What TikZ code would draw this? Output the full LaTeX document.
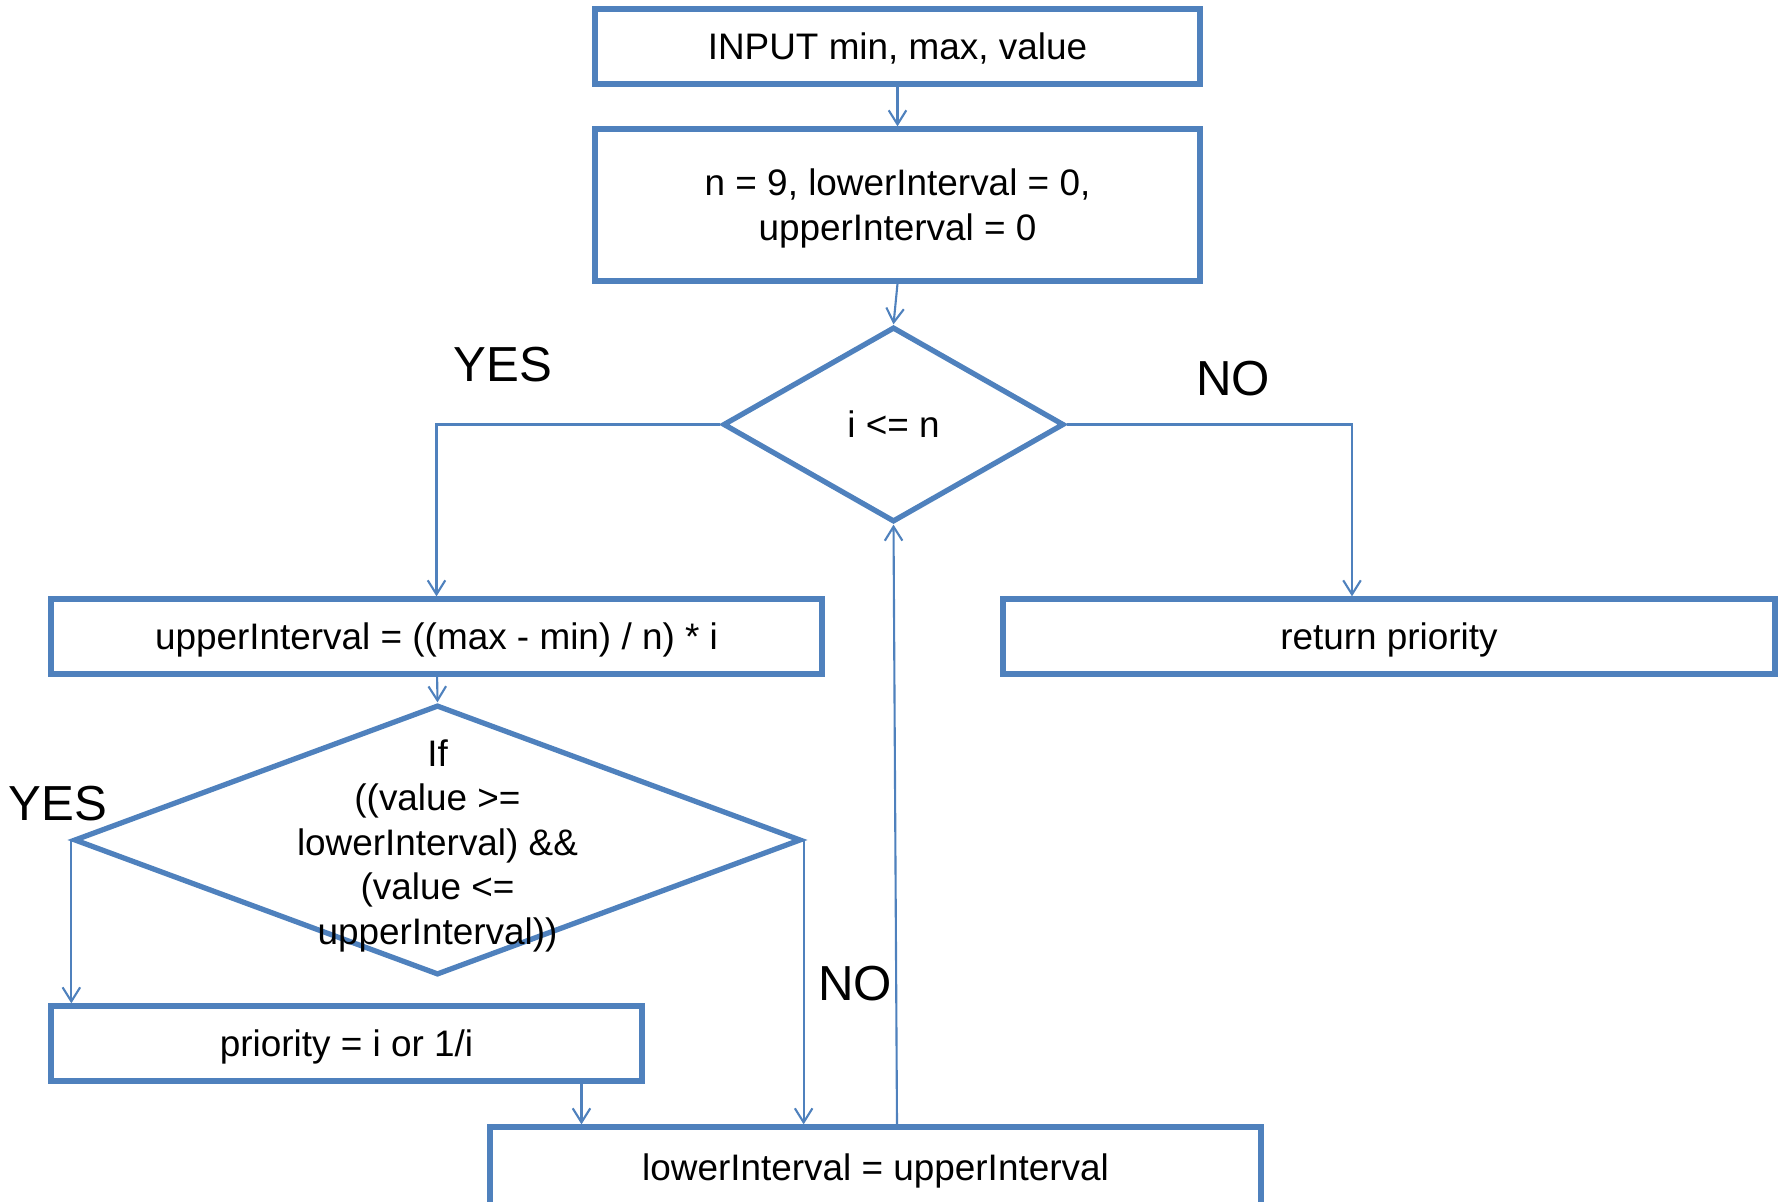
\documentclass[tikz,border=0pt]{standalone}
\usepackage{fontspec}
\setmainfont{Liberation Sans}
\usepackage{tikz}
\usetikzlibrary{arrows.meta,shapes.geometric}
\definecolor{flowblue}{HTML}{4F81BD}
\tikzset{stepbox/.style={rectangle,draw=flowblue,line width=1.5pt,inner sep=0pt,align=center,text depth=0pt,font=\fontsize{10.5}{12.8}\selectfont},
decision/.style={diamond,draw=flowblue,line width=1.5pt,inner sep=0pt,text depth=0pt,font=\fontsize{10.5}{12.8}\selectfont},
flow/.style={-{Straight Barb[length=4pt,width=5pt]},flowblue,line width=0.6pt},
answer/.style={font=\fontsize{14}{16}\selectfont}}

\begin{document}
\begin{tikzpicture}
\useasboundingbox (0,0) rectangle (17.81,-12.02);
\node[stepbox,minimum width=6.05cm,minimum height=0.75cm] (input) at (8.975,-0.465) {INPUT min, max, value};
\node[stepbox,minimum width=6.05cm,minimum height=1.52cm] (init) at (8.975,-2.05) {n = 9, lowerInterval = 0,\\upperInterval = 0};
\node[decision,minimum width=3.41cm,minimum height=1.95cm] (loop) at (8.935,-4.245) {i <= n};
\node[stepbox,minimum width=7.71cm,minimum height=0.75cm] (upper) at (4.365,-6.365) {upperInterval = ((max - min) / n) * i};
\node[stepbox,minimum width=7.72cm,minimum height=0.75cm] (ret) at (13.89,-6.365) {return priority};
\node[decision,minimum width=7.27cm,minimum height=2.7cm] (check) at (4.375,-8.40) {};
\node[align=center,text depth=0pt,font=\fontsize{10.5}{12.7}\selectfont] (checktext) at ([yshift=-0.2mm]check.center) {If\\((value >=\\lowerInterval) \&\&\\(value <=\\upperInterval))};
\node[stepbox,minimum width=5.91cm,minimum height=0.75cm] (prio) at (3.465,-10.435) {priority = i or 1/i};
\node[stepbox,minimum width=7.71cm,minimum height=0.8cm] (lower) at (8.755,-11.67) {lowerInterval = upperInterval};
% branch labels
\node[answer] (yesloop) at (5.03,-3.65) {YES};
\node[answer] (noloop) at (12.33,-3.79) {NO};
\node[answer] (yescheck) at (0.58,-8.04) {YES};
\node[answer] (nocheck) at (8.55,-9.84) {NO};
% connectors
\coordinate (retin) at ([xshift=-3.7mm]ret.north);
\coordinate (prioout) at ([xshift=23.5mm]prio.south);
\coordinate (back) at ([xshift=2.15mm]lower.north);
\draw[flow] (input) -- (init);
\draw[flow] (init.south) -- (loop.north);
\draw[flow] (loop.west) -| (upper.north);
\draw[flow] (loop.east) -| (retin);
\draw[flow] (upper) -- (check.north);
\draw[flow] (check.west) -- (check.west |- prio.north);
\draw[flow] (check.east) -- (check.east |- lower.north);
\draw[flow] (prioout) -- (prioout |- lower.north);
\draw[flow] (back) -- (loop.south);
\end{tikzpicture}
\end{document}
